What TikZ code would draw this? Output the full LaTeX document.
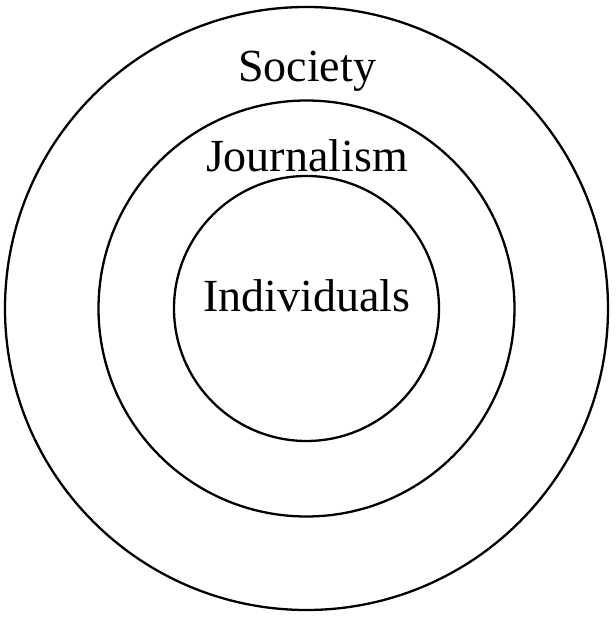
\documentclass[tikz,border=0pt]{standalone}
\usepackage{fontspec}
\setmainfont{Liberation Serif}
\begin{document}
\begin{tikzpicture}[x=1pt,y=1pt,
  ring/.style={draw=black,line width=2.3pt,circle,inner sep=0pt},
  lbl/.style={anchor=base,inner sep=0pt,font=\fontsize{46}{50}\selectfont}]
\useasboundingbox (0,0) rectangle (616,619);
\coordinate (c) at (306.5,310.5);
\node[ring,minimum size=603pt] (society) at (c) {};
\node[ring,minimum size=416pt] (journalism) at (c) {};
\node[ring,minimum size=265pt] (individuals) at (c) {};
\node[lbl] (tsoc) at (307,537) {Society};
\node[lbl] (tjou) at (307,447) {Journalism};
\node[lbl] (tind) at (307,307) {Individuals};
\end{tikzpicture}
\end{document}
